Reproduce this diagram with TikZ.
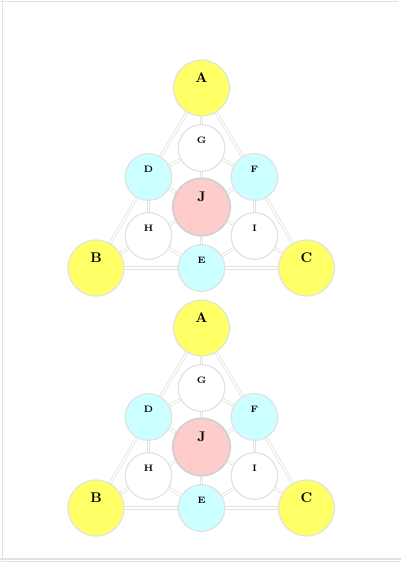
\documentclass[tikz,border=0pt]{standalone}
\usetikzlibrary{positioning,backgrounds}
\definecolor{hubyellow}{HTML}{FFFF66}
\definecolor{spokecyan}{HTML}{CCFFFF}
\definecolor{corepink}{HTML}{FFCCCC}
\definecolor{railgray}{HTML}{E2E2E2}
\begin{document}
\begin{tikzpicture}[
    x=0.75pt, y=-0.75pt,
    spot/.style={circle, draw=railgray, line width=0.9pt, inner sep=0pt, fill=white, minimum size=35pt},
    bigspot/.style={spot, minimum size=42pt},
    corespot/.style={spot, draw=black!18, line width=1.4pt, minimum size=43pt, fill=corepink},
    biglbl/.style={font=\bfseries\fontsize{10.5}{12}\selectfont, yshift=7.5pt, inner sep=0pt},
    smalllbl/.style={font=\bfseries\fontsize{7}{8}\selectfont, yshift=6pt, inner sep=0pt},
    rail/.style={draw=railgray, double=white, line width=0.6pt, double distance=1.2pt}
]
\useasboundingbox (0,0) rectangle (401,563);
% page frame
\draw[railgray, line width=0.8pt] (0,1.5) -- (398,1.5);
\draw[railgray, line width=0.8pt] (2.5,0) -- (2.5,561);
\draw[railgray, line width=0.8pt] (0,559) -- (401,559);
\draw[railgray, line width=0.8pt] (0,561.5) -- (401,561.5);

\foreach \k/\dy in {1/0,2/240}{
\begin{scope}[shift={(0,\dy)}]
\node[bigspot, fill=hubyellow, label={[biglbl]center:A}] (A\k) at (201.5,88) {};
\node[spot, label={[smalllbl]center:G}] (G\k) at (201.5,148) {};
\node[spot, fill=spokecyan, label={[smalllbl]center:D}] (D\k) at (148.5,177) {};
\node[spot, fill=spokecyan, label={[smalllbl]center:F}] (F\k) at (254.5,177) {};
\node[corespot, label={[biglbl]center:J}] (J\k) at (201.5,207) {};
\node[spot, label={[smalllbl]center:H}] (H\k) at (148.5,236) {};
\node[spot, label={[smalllbl]center:I}] (I\k) at (254.5,236) {};
\node[spot, fill=spokecyan, label={[smalllbl]center:E}] (E\k) at (201.5,268) {};
\node[bigspot, fill=hubyellow, label={[biglbl]center:B}] (B\k) at (96,268) {};
\node[bigspot, fill=hubyellow, label={[biglbl]center:C}] (C\k) at (306.5,268) {};

\begin{scope}[on background layer]
\foreach \u/\v in {A/D,D/B,A/F,F/C,B/E,E/C,A/G,G/J,D/G,G/F,D/J,F/J,D/H,F/I,H/J,I/J,H/E,I/E,J/E,H/B,I/C}
  \draw[rail] (\u\k) -- (\v\k);
\end{scope}
\end{scope}
}
\end{tikzpicture}
\end{document}
